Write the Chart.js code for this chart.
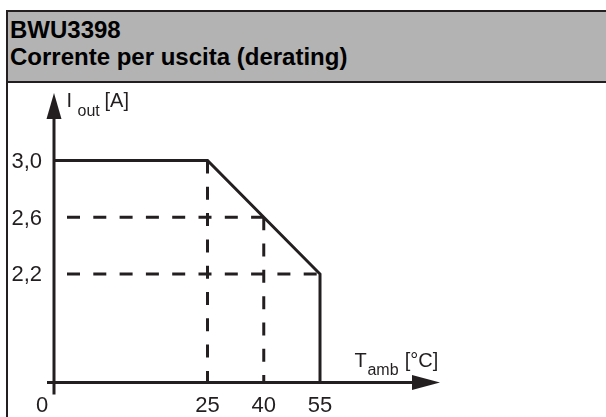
<!DOCTYPE html>
<html><head><meta charset="utf-8">
<script src="https://cdn.jsdelivr.net/npm/chart.js@4/dist/chart.umd.min.js"></script>
<style>
html,body{margin:0;padding:0;width:606px;height:417px;overflow:hidden;background:#fff;}
#header{position:absolute;left:6px;top:10px;width:610px;height:69px;background:#b3b3b3;border-top:2px solid #231f20;border-bottom:2px solid #231f20;}
#frameL{position:absolute;left:6px;top:10px;width:2px;height:407px;background:#231f20;}
.t{position:absolute;left:10px;font:bold 24px/24px "Liberation Sans",Arial,sans-serif;color:#000;white-space:nowrap;}
canvas{position:absolute;left:0;top:0;}
</style></head>
<body>
<div id="header"></div><div id="frameL"></div>
<div class="t" style="top:17.5px">BWU3398</div>
<div class="t" style="top:44.5px">Corrente per uscita (derating)</div>
<canvas id="c" width="606" height="417"></canvas>
<script>
// ---- data ----
const curveT = [0, 25, 55, 55];          // Tamb [°C]
const curveI = [3.0, 3.0, 2.2, 0];       // Iout [A]
const guide25T = [25, 25];  const guide25I = [3.0, 0];
const guide26T = [0, 40];   const guide26I = [2.6, 2.6];
const guide40T = [40, 40];  const guide40I = [2.6, 0];
const guide22T = [0, 55];   const guide22I = [2.2, 2.2];
const xTickValues = [0, 25, 40, 55];
const yTickValues = [2.2, 2.6, 3.0];
const xTitle = ['T', 'amb', '[°C]'];
const yTitle = ['I', 'out', '[A]'];

const ink = '#231f20';
const pts = (xs, ys) => xs.map((v, i) => ({x: v, y: ys[i]}));
const fmt = v => v.toFixed(1).replace('.', ',');

// schematic (broken) axis: piecewise-linear value -> fraction mapping
function mapKnots(v, knots, from, to) {
  for (let i = 1; i < knots.length; i++) {
    const a = knots[i - 1], b = knots[i];
    if (v <= b[from] || i === knots.length - 1) {
      return a[to] + (v - a[from]) * (b[to] - a[to]) / (b[from] - a[from]);
    }
  }
}
class BrokenScale extends Chart.LinearScale {
  getPixelForValue(v) {
    if (v === null || v === undefined || isNaN(v)) return NaN;
    return this.getPixelForDecimal(mapKnots(v, this.options.knots, 0, 1));
  }
  getValueForPixel(p) {
    return mapKnots(this.getDecimalForPixel(p), this.options.knots, 1, 0);
  }
}
BrokenScale.id = 'broken';
BrokenScale.defaults = {};
Chart.register(BrokenScale);

const axesPlugin = {
  id: 'schematicAxes',
  afterDatasetsDraw(chart) {
    const {ctx} = chart; const x = chart.scales.x, y = chart.scales.y;
    const ox = x.getPixelForValue(0), oy = y.getPixelForValue(0);
    const xEnd = x.getPixelForValue(x.max), yEnd = y.getPixelForValue(y.max);
    ctx.save();
    ctx.strokeStyle = ink; ctx.fillStyle = ink; ctx.lineWidth = 3; ctx.lineCap = 'butt';
    ctx.beginPath(); ctx.moveTo(ox - 7, oy); ctx.lineTo(xEnd - 26, oy); ctx.stroke();
    ctx.beginPath(); ctx.moveTo(ox, oy + 12); ctx.lineTo(ox, yEnd + 24); ctx.stroke();
    ctx.beginPath(); ctx.moveTo(xEnd, oy); ctx.lineTo(xEnd - 28, oy - 7.5); ctx.lineTo(xEnd - 28, oy + 7.5); ctx.closePath(); ctx.fill();
    ctx.beginPath(); ctx.moveTo(ox, yEnd); ctx.lineTo(ox - 7.5, yEnd + 26); ctx.lineTo(ox + 7.5, yEnd + 26); ctx.closePath(); ctx.fill();

    ctx.font = '22px "Liberation Sans", Arial, sans-serif';
    ctx.textBaseline = 'alphabetic';
    ctx.textAlign = 'right';
    yTickValues.forEach(v => ctx.fillText(fmt(v), ox - 12, y.getPixelForValue(v) + 7.5));
    ctx.textAlign = 'center';
    xTickValues.forEach(v => ctx.fillText(String(v), x.getPixelForValue(v) - (v === 0 ? 12 : 0), oy + 29.5));

    ctx.font = '20px "Liberation Sans", Arial, sans-serif';
    ctx.textAlign = 'left';
    // y title: I out [A]
    ctx.fillText(yTitle[0], ox + 12.5, yEnd + 14);
    ctx.fillText(yTitle[2], ox + 50.5, yEnd + 14);
    ctx.font = '16px "Liberation Sans", Arial, sans-serif';
    ctx.fillText(yTitle[1], ox + 23.5, yEnd + 23);
    // x title: T amb [°C]
    ctx.fillText(xTitle[1], xEnd - 72.6, oy - 7.5);
    ctx.font = '20px "Liberation Sans", Arial, sans-serif';
    ctx.fillText(xTitle[0], xEnd - 85.4, oy - 15.5);
    ctx.fillText(xTitle[2], xEnd - 35.3, oy - 15.5);
    ctx.restore();
  }
};

const solid = {borderColor: ink, borderWidth: 3, pointRadius: 0, fill: false, tension: 0};
const dashedV = Object.assign({}, solid, {borderDash: [13, 13.3], borderDashOffset: 0});
const dashedH = Object.assign({}, solid, {borderDash: [13, 13.3], borderDashOffset: 13.3});

new Chart(document.getElementById('c'), {
  type: 'line',
  data: {
    datasets: [
      Object.assign({label: 'Iout', data: pts(curveT, curveI)}, solid),
      Object.assign({label: 'g25', data: pts(guide25T, guide25I)}, dashedV),
      Object.assign({label: 'g26', data: pts(guide26T, guide26I)}, dashedH),
      Object.assign({label: 'g40', data: pts(guide40T, guide40I)}, dashedV),
      Object.assign({label: 'g22', data: pts(guide22T, guide22I)}, dashedH)
    ]
  },
  options: {
    responsive: false, animation: false, devicePixelRatio: 1,
    layout: {padding: {left: 54, right: 166, top: 93, bottom: 34.5}},
    plugins: {legend: {display: false}, tooltip: {enabled: false}, title: {display: false}},
    scales: {
      x: {type: 'broken', min: 0, max: 87, knots: [[0, 0], [25, 0.3977], [87, 1]], display: false},
      y: {type: 'broken', min: 0, max: 3.476, knots: [[0, 0], [2.2, 0.3748], [3.476, 1]], display: false}
    }
  },
  plugins: [axesPlugin]
});
</script>
</body></html>
